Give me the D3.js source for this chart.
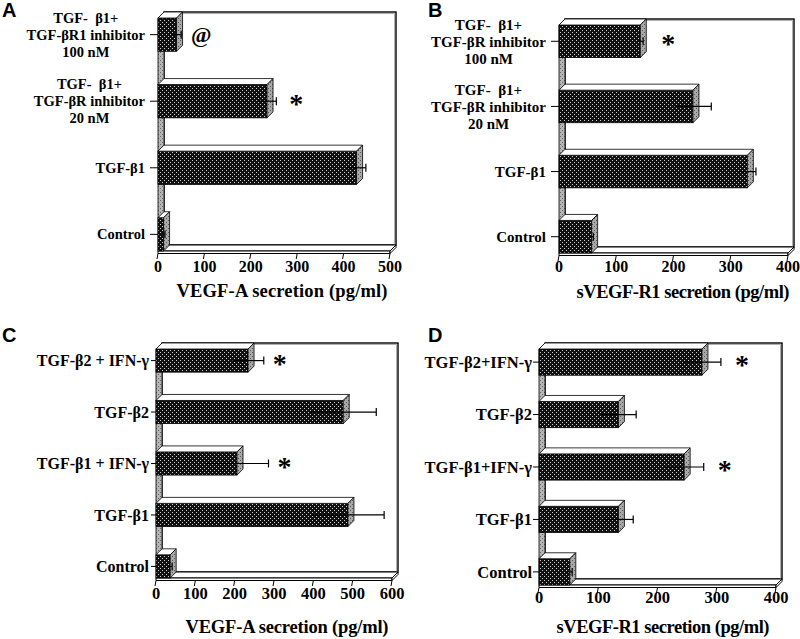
<!DOCTYPE html>
<html><head><meta charset="utf-8">
<script src="https://cdn.jsdelivr.net/npm/d3@7"></script>
<style>body{margin:0;background:#fff} svg{display:block} text{white-space:pre}</style>
</head><body>
<svg id="chart" width="800" height="639"></svg>
<script>
// ---------- DATA ----------
// Panel A
const catsA = [["TGF-  β1+", "TGF-βR1 inhibitor", "100 nM"], ["TGF-  β1+", "TGF-βR inhibitor", "20 nM"], ["TGF-β1"], ["Control"]];
const valsA = [40, 235, 428, 12];
const errsA = [10, 20, 20, 3];
const marksA = ["@", "*", "", ""];
const ticksA = [0, 100, 200, 300, 400, 500];
const titleA = "VEGF-A secretion (pg/ml)";
// Panel B
const catsB = [["TGF-  β1+", "TGF-βR inhibitor", "100 nM"], ["TGF-  β1+", "TGF-βR inhibitor", "20 nM"], ["TGF-β1"], ["Control"]];
const valsB = [142, 234, 329, 57];
const errsB = [5, 32, 15, 3];
const marksB = ["*", "", "", ""];
const ticksB = [0, 100, 200, 300, 400];
const titleB = "sVEGF-R1 secretion (pg/ml)";
// Panel C
const catsC = [["TGF-β2 + IFN-γ"], ["TGF-β2"], ["TGF-β1 + IFN-γ"], ["TGF-β1"], ["Control"]];
const valsC = [234, 476, 206, 488, 36];
const errsC = [40, 84, 80, 92, 5];
const marksC = ["*", "", "*", "", ""];
const ticksC = [0, 100, 200, 300, 400, 500, 600];
const titleC = "VEGF-A secretion (pg/ml)";
// Panel D
const catsD = [["TGF-β2+IFN-γ"], ["TGF-β2"], ["TGF-β1+IFN-γ"], ["TGF-β1"], ["Control"]];
const valsD = [275, 134, 245, 134, 52];
const errsD = [32, 30, 33, 25, 4];
const marksD = ["*", "", "*", "", ""];
const ticksD = [0, 100, 200, 300, 400];
const titleD = "sVEGF-R1 secretion (pg/ml)";

// ---------- DRAW ----------
const svg = d3.select("#chart");
const defs = svg.append("defs");
function dotPattern(id, bg, dot) {
  const p = defs.append("pattern").attr("id", id).attr("width", 4).attr("height", 4)
    .attr("patternUnits", "userSpaceOnUse");
  p.append("rect").attr("width", 4).attr("height", 4).attr("fill", bg);
  p.append("rect").attr("x", 0).attr("y", 0).attr("width", 1).attr("height", 1).attr("fill", dot);
  p.append("rect").attr("x", 2).attr("y", 2).attr("width", 1).attr("height", 1).attr("fill", dot);
}
dotPattern("dark", "#111", "#cfcfcf");
dotPattern("side", "#a9a9a9", "#555");
dotPattern("wall", "#b5b5b5", "#666");

const serif = "'Liberation Serif','Times New Roman',serif";
const sans = "'Liberation Sans',Arial,sans-serif";

function panel(L, cats, vals, errs, marks, ticks, title) {
  const g = svg.append("g");
  const dx = 6, dy = -6;
  const x = d3.scaleLinear().domain([0, ticks[ticks.length - 1]]).range([L.x0, L.x1]);
  const y = d3.scaleBand().domain(d3.range(cats.length)).range([L.yTop, L.yB]).paddingInner(L.pad).paddingOuter(0);
  const bw = y.bandwidth();
  const line = d3.line();

  // back wall
  g.append("rect").attr("x", L.x0 + dx).attr("y", L.yTop + dy).attr("width", L.x1 - L.x0).attr("height", L.yB - L.yTop)
    .attr("fill", "#fff").attr("stroke", "#000").attr("stroke-width", 1.4);
  g.append("path").attr("d", line([[L.x0 + dx, L.yTop + dy + 1.5], [L.x1 + dx - 1.5, L.yTop + dy + 1.5], [L.x1 + dx - 1.5, L.yB + dy]]))
    .attr("fill", "none").attr("stroke", "#999").attr("stroke-width", 0.8);
  // left wall
  g.append("path").attr("d", line([[L.x0, L.yTop], [L.x0 + dx, L.yTop + dy], [L.x0 + dx, L.yB + dy], [L.x0, L.yB]]) + "Z")
    .attr("fill", "url(#wall)").attr("stroke", "#000").attr("stroke-width", 0.8);
  // floor
  g.append("path").attr("d", line([[L.x0, L.yB], [L.x1, L.yB], [L.x1 + dx, L.yB + dy], [L.x0 + dx, L.yB + dy]]) + "Z")
    .attr("fill", "#fff").attr("stroke", "#000").attr("stroke-width", 1);
  g.append("path").attr("d", line([[L.x0, L.yB], [L.x1, L.yB], [L.x1, L.yB + 2.5], [L.x0, L.yB + 2.5]]) + "Z")
    .attr("fill", "#fff").attr("stroke", "#000").attr("stroke-width", 1);
  g.append("path").attr("d", line([[L.x1, L.yB], [L.x1 + dx, L.yB + dy], [L.x1 + dx, L.yB + dy + 2.5], [L.x1, L.yB + 2.5]]) + "Z")
    .attr("fill", "#fff").attr("stroke", "#000").attr("stroke-width", 1);

  // bars
  cats.forEach((c, i) => {
    const yT = y(i), yBt = yT + bw, xL = L.x0, xR = x(vals[i]);
    g.append("rect").attr("x", xL).attr("y", yT).attr("width", xR - xL).attr("height", bw)
      .attr("fill", "url(#dark)").attr("stroke", "#000").attr("stroke-width", 0.8);
    g.append("path").attr("d", line([[xL, yT], [xR, yT], [xR + dx, yT + dy], [xL + dx, yT + dy]]) + "Z")
      .attr("fill", "#fff").attr("stroke", "#000").attr("stroke-width", 0.8);
    g.append("path").attr("d", line([[xR, yT], [xR + dx, yT + dy], [xR + dx, yBt + dy], [xR, yBt]]) + "Z")
      .attr("fill", "url(#side)").attr("stroke", "#000").attr("stroke-width", 0.8);
    const yc = yT + bw / 2;
    g.append("line").attr("x1", x(vals[i] - errs[i])).attr("x2", x(vals[i] + errs[i])).attr("y1", yc).attr("y2", yc)
      .attr("stroke", "#000").attr("stroke-width", 1.2);
    g.append("line").attr("x1", x(vals[i] + errs[i])).attr("x2", x(vals[i] + errs[i])).attr("y1", yc - 4).attr("y2", yc + 4)
      .attr("stroke", "#000").attr("stroke-width", 1.2);
    if (marks[i]) {
      g.append("text").attr("x", x(vals[i] + errs[i]) + L.markOff).attr("y", yc + (marks[i] === "*" ? 12 : 7))
        .attr("text-anchor", "middle").attr("font-family", serif).attr("font-weight", "bold")
        .attr("font-size", marks[i] === "*" ? 28 : 22).text(marks[i]);
    }
    // y tick
    g.append("line").attr("x1", L.x0 - L.tick).attr("x2", L.x0).attr("y1", yc).attr("y2", yc)
      .attr("stroke", "#000").attr("stroke-width", 1);
    // category label (lines centred on each other, block right-aligned)
    const tg = g.append("g");
    const n = c.length;
    const texts = c.map((s, k) => tg.append("text").attr("y", yc + (k - (n - 1) / 2) * L.lh + L.fs * 0.35)
      .attr("font-family", serif).attr("font-weight", "bold").attr("font-size", L.fs).attr("text-anchor", "middle").text(s));
    const wmax = d3.max(texts, t => t.node().getComputedTextLength());
    const cx = L.x0 - L.tick - L.gap - wmax / 2;
    texts.forEach(t => t.attr("x", cx));
  });

  // x ticks
  ticks.forEach(t => {
    g.append("line").attr("x1", x(t)).attr("x2", x(t) - 1).attr("y1", L.yB + 2.5).attr("y2", L.yB + 8)
      .attr("stroke", "#000").attr("stroke-width", 1);
    g.append("text").attr("x", x(t)).attr("y", L.tickY).attr("text-anchor", "middle")
      .attr("font-family", serif).attr("font-weight", "bold").attr("font-size", L.tfs).text(t);
  });
  g.append("text").attr("x", L.titleX).attr("y", L.titleY).attr("text-anchor", "middle")
    .attr("font-family", serif).attr("font-weight", "bold").attr("font-size", 18.5)
    .attr("textLength", L.titleW).attr("lengthAdjust", "spacing").text(title);
  g.append("text").attr("x", L.lx).attr("y", L.ly).attr("font-family", sans).attr("font-weight", "bold")
    .attr("font-size", 20).text(L.letter);
}

panel({x0: 158, x1: 390, yTop: 18, yB: 251, pad: 0.5, tick: 8, gap: 5, fs: 14.5, lh: 17, tfs: 16, tickY: 272,
  titleX: 282, titleY: 297, titleW: 211, markOff: 20, lx: 2, ly: 17, letter: "A"},
  catsA, valsA, errsA, marksA, ticksA, titleA);
panel({x0: 559, x1: 788, yTop: 25, yB: 253, pad: 0.5, tick: 8, gap: 5, fs: 15, lh: 17, tfs: 16, tickY: 272,
  titleX: 683, titleY: 298, titleW: 213, markOff: 25, lx: 428, ly: 17, letter: "B"},
  catsB, valsB, errsB, marksB, ticksB, titleB);
panel({x0: 156, x1: 392, yTop: 349, yB: 578, pad: 0.55, tick: 5, gap: 2, fs: 16, lh: 17, tfs: 16.5, tickY: 599,
  titleX: 287, titleY: 633, titleW: 203, markOff: 16, lx: 2, ly: 342, letter: "C"},
  catsC, valsC, errsC, marksC, ticksC, titleC);
panel({x0: 539, x1: 776, yTop: 349, yB: 585, pad: 0.5, tick: 6, gap: 1, fs: 16.5, lh: 17, tfs: 16.5, tickY: 603,
  titleX: 663, titleY: 633, titleW: 213, markOff: 21, lx: 428, ly: 342, letter: "D"},
  catsD, valsD, errsD, marksD, ticksD, titleD);
</script>
</body></html>
